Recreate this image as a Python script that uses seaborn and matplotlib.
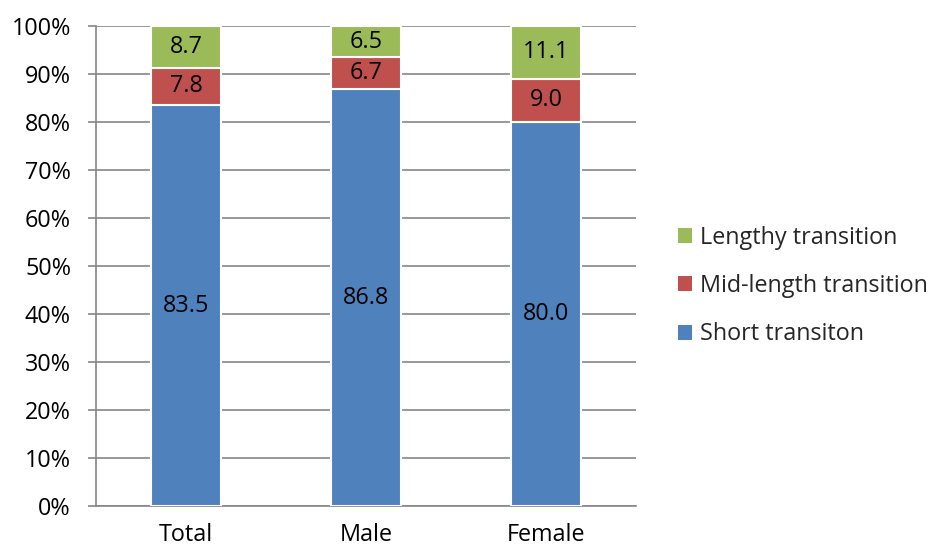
import matplotlib
matplotlib.use("Agg")
import matplotlib.pyplot as plt
import seaborn as sns
import pandas as pd
from matplotlib.patches import Patch
from matplotlib.ticker import FuncFormatter, MultipleLocator

categories = ["Total", "Male", "Female"]
short_vals = [83.5, 86.8, 80.0]
mid_vals = [7.8, 6.7, 9.0]
lengthy_vals = [8.7, 6.5, 11.1]
series_names = ["Short transiton", "Mid-length transition", "Lengthy transition"]
colors = ["#4F81BD", "#C0504D", "#9BBB59"]

sns.set_theme(style="white")
plt.rcParams["font.family"] = ["Open Sans", "DejaVu Sans"]
FS = 16.8

fig = plt.figure(figsize=(9.29, 5.5), dpi=100)
ax = fig.add_axes([0.1033, 0.08, 0.5813, 0.8727])

df = pd.DataFrame({"cat": categories, "short": short_vals, "mid": mid_vals, "lengthy": lengthy_vals})
series = [df["short"], df["mid"], df["lengthy"]]

bottom = pd.Series([0.0] * len(df))
for vals, col in zip(series, colors):
    sns.barplot(x=df["cat"], y=vals, bottom=bottom, color=col, width=0.39,
                edgecolor="white", linewidth=1.5, ax=ax, saturation=1, zorder=3)
    for i, (v, b) in enumerate(zip(vals, bottom)):
        ax.text(i, b + v / 2, f"{v:.1f}", ha="center", va="center", fontsize=FS,
                color="black", zorder=4)
    bottom = bottom + vals

ax.set_xlim(-0.5, 2.5)
ax.set_ylim(0, 100)
ax.yaxis.set_major_locator(MultipleLocator(10))
ax.yaxis.set_major_formatter(FuncFormatter(lambda v, p: f"{int(round(v))}%"))
ax.set_xlabel("")
ax.set_ylabel("")

ax.grid(axis="y", color="#868686", linewidth=1.2, zorder=0)
for s in ["top", "right"]:
    ax.spines[s].set_visible(False)
for s in ["left", "bottom"]:
    ax.spines[s].set_color("#868686")
    ax.spines[s].set_linewidth(1.2)

ax.set_xticks([0, 1, 2])
ax.set_xticklabels(categories)
ax.tick_params(axis="x", which="major", length=0, labelsize=FS, pad=12, colors="black")
ax.set_xticks([-0.5, 0.5, 1.5, 2.5], minor=True)
ax.tick_params(axis="x", which="minor", length=6, width=1.2, color="#868686", direction="out")
ax.tick_params(axis="y", length=6, width=1.2, color="#868686", direction="out",
               labelsize=FS, pad=12, left=True, labelcolor="black")

handles = [Patch(facecolor=c, edgecolor="none") for c in colors][::-1]
labels = series_names[::-1]
fig.legend(handles, labels, loc="center left", bbox_to_anchor=(0.707, 0.48),
           frameon=False, fontsize=FS, handlelength=0.6, handleheight=0.6,
           handletextpad=0.35, labelspacing=1.05)

fig.savefig("out.png", dpi=100)
